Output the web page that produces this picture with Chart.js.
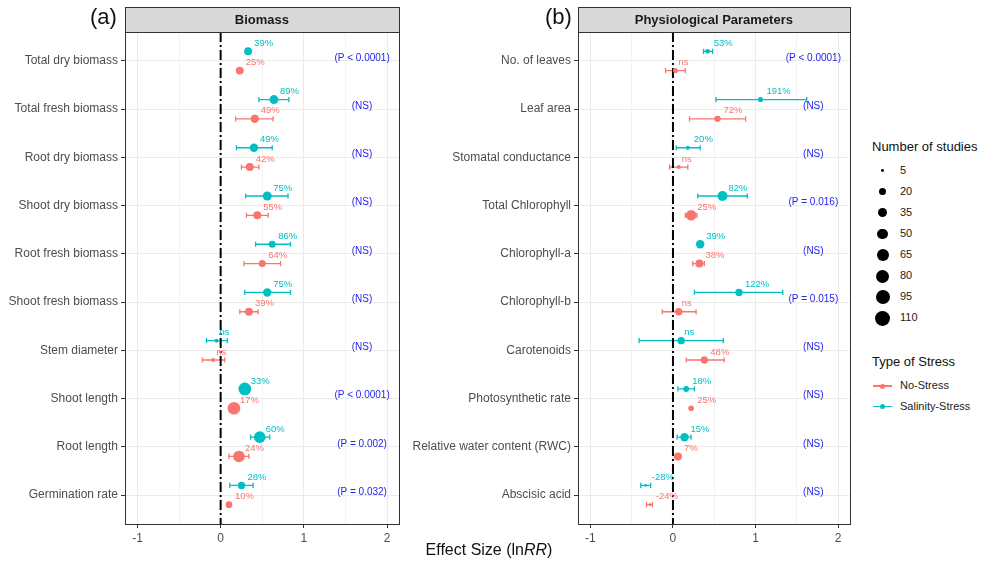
<!DOCTYPE html>
<html><head><meta charset="utf-8">
<script src="https://cdn.jsdelivr.net/npm/chart.js@4.4.1/dist/chart.umd.min.js"></script>
<style>
body{margin:0;width:992px;height:562px;background:#fff;position:relative;overflow:hidden;font-family:"Liberation Sans",Arial,sans-serif;}
canvas{position:absolute;top:0;}
.tag{position:absolute;font-size:22px;color:#111;top:4px;}
.xt{position:absolute;left:289px;width:400px;text-align:center;top:541px;font-size:16px;color:#111;}
.leg{position:absolute;left:872px;font-size:11px;color:#222;}
.lt{position:absolute;left:872px;font-size:13px;color:#111;}
.dot{position:absolute;background:#000;border-radius:50%;}
</style></head>
<body>
<canvas id="ca" width="405" height="546" style="left:0"></canvas>
<canvas id="cb" width="455" height="546" style="left:400px"></canvas>
<div class="tag" style="left:90px">(a)</div>
<div class="tag" style="left:545px">(b)</div>
<div class="xt">Effect Size (ln<i>RR</i>)</div>
<div id="legend"></div>
<script>
// ---------- Panel (a): Biomass ----------
const biomassCategories = ["Total dry biomass","Total fresh biomass","Root dry biomass","Shoot dry biomass","Root fresh biomass","Shoot fresh biomass","Stem diameter","Shoot length","Root length","Germination rate"];
const biomassSalinity      = [0.33, 0.64, 0.40, 0.56, 0.62, 0.56, -0.05, 0.29, 0.47, 0.25];
const biomassSalinityLow   = [null, 0.46, 0.19, 0.30, 0.42, 0.29, -0.17, null, 0.36, 0.11];
const biomassSalinityHigh  = [null, 0.82, 0.62, 0.81, 0.84, 0.84, 0.08, null, 0.59, 0.39];
const biomassSalinityN     = [24, 32, 28, 32, 18, 28, 6, 76, 62, 20];
const biomassSalinityLabel = ["39%","89%","49%","75%","86%","75%","ns","33%","60%","28%"];
const biomassNoStress      = [0.23, 0.41, 0.35, 0.44, 0.50, 0.34, -0.09, 0.16, 0.22, 0.10];
const biomassNoStressLow   = [null, 0.18, 0.25, 0.31, 0.28, 0.23, -0.22, null, 0.10, null];
const biomassNoStressHigh  = [null, 0.63, 0.46, 0.57, 0.72, 0.45, 0.05, null, 0.34, null];
const biomassNoStressN     = [24, 28, 24, 25, 18, 24, 6, 75, 62, 16];
const biomassNoStressLabel = ["25%","49%","42%","55%","64%","39%","ns","17%","24%","10%"];
const biomassSignif = ["(P < 0.0001)","(NS)","(NS)","(NS)","(NS)","(NS)","(NS)","(P < 0.0001)","(P = 0.002)","(P = 0.032)"];

// ---------- Panel (b): Physiological Parameters ----------
const physioCategories = ["No. of leaves","Leaf area","Stomatal conductance","Total Chlorophyll","Chlorophyll-a","Chlorophyll-b","Carotenoids","Photosynthetic rate","Relative water content (RWC)","Abscisic acid"];
const physioSalinity      = [0.42, 1.06, 0.18, 0.60, 0.33, 0.80, 0.10, 0.16, 0.14, -0.33];
const physioSalinityLow   = [0.37, 0.52, 0.04, 0.30, null, 0.26, -0.41, 0.06, 0.05, -0.39];
const physioSalinityHigh  = [0.48, 1.62, 0.33, 0.90, null, 1.33, 0.61, 0.26, 0.22, -0.27];
const physioSalinityN     = [8, 9, 6, 42, 28, 20, 20, 12, 28, 5];
const physioSalinityLabel = ["53%","191%","20%","82%","39%","122%","ns","18%","15%","-28%"];
const physioNoStress      = [0.03, 0.54, 0.07, 0.22, 0.32, 0.07, 0.38, 0.22, 0.06, -0.28];
const physioNoStressLow   = [-0.09, 0.20, -0.04, 0.15, 0.24, -0.13, 0.16, null, null, -0.32];
const physioNoStressHigh  = [0.15, 0.88, 0.18, 0.29, 0.38, 0.28, 0.62, null, null, -0.25];
const physioNoStressN     = [9, 14, 6, 50, 24, 20, 20, 11, 25, 5];
const physioNoStressLabel = ["ns","72%","ns","25%","38%","ns","48%","25%","7%","-24%"];
const physioSignif = ["(P < 0.0001)","(NS)","(NS)","(P = 0.016)","(NS)","(P = 0.015)","(NS)","(NS)","(NS)","(NS)"];

// ---------- Legend ----------
const studyLegendValues = [5, 20, 35, 50, 65, 80, 95, 110];
const stressTypes = ["No-Stress", "Salinity-Stress"];

const CYAN = "#00BFC4", RED = "#F8766D";
const FONT = "'Liberation Sans', Arial, sans-serif";
const radiusFor = n => 1.4 + 6.0 * Math.sqrt(Math.max(0, n - 5) / 105);

const panelPlugin = {
  id: 'panelPlugin',
  beforeDatasetsDraw(chart) {
    const {ctx} = chart, xs = chart.scales.x, ys = chart.scales.y;
    chart.data.datasets.forEach(ds => {
      if (!ds.errLo) return;
      ctx.save();
      ctx.strokeStyle = ds.backgroundColor; ctx.lineWidth = 1.3;
      ds.data.forEach((p, i) => {
        if (ds.errLo[i] == null) return;
        const x1 = xs.getPixelForValue(ds.errLo[i]), x2 = xs.getPixelForValue(ds.errHi[i]);
        const y = ys.getPixelForValue(p.y);
        ctx.beginPath();
        ctx.moveTo(x1, y); ctx.lineTo(x2, y);
        ctx.moveTo(x1, y - 2.6); ctx.lineTo(x1, y + 2.6);
        ctx.moveTo(x2, y - 2.6); ctx.lineTo(x2, y + 2.6);
        ctx.stroke();
      });
      ctx.restore();
    });
  },
  afterDatasetsDraw(chart) {
    const {ctx} = chart, xs = chart.scales.x, ys = chart.scales.y, a = chart.chartArea;
    ctx.save();
    ctx.font = "9.5px " + FONT; ctx.textBaseline = 'middle'; ctx.textAlign = 'left';
    chart.data.datasets.forEach(ds => {
      if (!ds.labels) return;
      ctx.fillStyle = ds.backgroundColor;
      ds.data.forEach((p, i) => {
        const t = ds.labels[i];
        const x = xs.getPixelForValue(p.x) + (t === 'ns' ? 3 : 6);
        const y = ys.getPixelForValue(p.y) - 8;
        ctx.fillText(t, x, y);
      });
    });
    // significance notes
    const sig = chart.options.plugins.panelPlugin.signif;
    ctx.font = "10px " + FONT; ctx.textAlign = 'center'; ctx.fillStyle = '#2424F0';
    sig.forEach((t, i) => {
      ctx.fillText(t, xs.getPixelForValue(1.7), ys.getPixelForValue(i + 1) - 3);
    });
    // panel border
    ctx.strokeStyle = '#333'; ctx.lineWidth = 1;
    ctx.strokeRect(Math.round(a.left) + 0.5, Math.round(a.top) + 0.5, Math.round(a.right - a.left), Math.round(a.bottom - a.top));
    // strip
    const top = 7.5;
    ctx.fillStyle = '#D9D9D9';
    ctx.fillRect(Math.round(a.left) + 0.5, top, Math.round(a.right - a.left), Math.round(a.top) - top + 0.5);
    ctx.strokeRect(Math.round(a.left) + 0.5, top, Math.round(a.right - a.left), Math.round(a.top) - top + 0.5);
    ctx.fillStyle = '#1A1A1A'; ctx.font = "bold 13px " + FONT; ctx.textAlign = 'center';
    ctx.fillText(chart.options.plugins.panelPlugin.title, (a.left + a.right) / 2, (top + a.top) / 2 + 1);
    ctx.restore();
  }
};

function makePanel(id, title, cats, sV, sLo, sHi, sN, sLab, nV, nLo, nHi, nN, nLab, sig, yWidth) {
  new Chart(document.getElementById(id), {
    type: 'scatter',
    data: {
      datasets: [
        { type: 'line', data: [{x: 0, y: 0.4}, {x: 0, y: 10.6}], borderColor: '#000', borderWidth: 2,
          borderDash: [10, 3, 2, 3], pointRadius: 0, order: 3 },
        { label: 'Salinity-Stress', data: sV.map((v, i) => ({x: v, y: i + 1 - 0.2})),
          pointRadius: sN.map(radiusFor), backgroundColor: CYAN, borderWidth: 0, pointBorderWidth: 0,
          errLo: sLo, errHi: sHi, labels: sLab, order: 1 },
        { label: 'No-Stress', data: nV.map((v, i) => ({x: v, y: i + 1 + 0.2})),
          pointRadius: nN.map(radiusFor), backgroundColor: RED, borderWidth: 0, pointBorderWidth: 0,
          errLo: nLo, errHi: nHi, labels: nLab, order: 2 }
      ]
    },
    options: {
      responsive: false, animation: false, devicePixelRatio: 1,
      layout: { padding: { top: 32, right: 5, left: 0, bottom: 0 } },
      plugins: { legend: { display: false }, tooltip: { enabled: false },
                 panelPlugin: { title: title, signif: sig } },
      scales: {
        x: {
          type: 'linear', min: -1.15, max: 2.14,
          afterBuildTicks: s => { s.ticks = [-1, -0.5, 0, 0.5, 1, 1.5, 2].map(v => ({value: v})); },
          afterFit: s => { s.height = 22; },
          border: { display: false },
          grid: { color: c => (Math.abs(c.tick.value % 1) > 0.01 ? '#F3F3F3' : '#EBEBEB'),
                  lineWidth: 1, tickLength: 4,
                  tickColor: c => (Math.abs(c.tick.value % 1) > 0.01 ? 'rgba(0,0,0,0)' : '#333') },
          ticks: { padding: 3, color: '#4D4D4D', font: { family: FONT, size: 12 },
                   callback: v => (Math.abs(v % 1) > 0.01 ? '' : String(v)) }
        },
        y: {
          type: 'linear', min: 0.4, max: 10.6, reverse: true,
          afterBuildTicks: s => { s.ticks = cats.map((c, i) => ({value: i + 1})); },
          afterFit: s => { s.width = yWidth; },
          border: { display: false },
          grid: { color: '#EBEBEB', lineWidth: 1, tickLength: 4, tickColor: '#333' },
          ticks: { padding: 3, color: '#4D4D4D', font: { family: FONT, size: 12 }, autoSkip: false,
                   callback: v => cats[Math.round(v) - 1] }
        }
      }
    },
    plugins: [panelPlugin]
  });
}

makePanel('ca', 'Biomass', biomassCategories,
  biomassSalinity, biomassSalinityLow, biomassSalinityHigh, biomassSalinityN, biomassSalinityLabel,
  biomassNoStress, biomassNoStressLow, biomassNoStressHigh, biomassNoStressN, biomassNoStressLabel,
  biomassSignif, 125);
makePanel('cb', 'Physiological Parameters', physioCategories,
  physioSalinity, physioSalinityLow, physioSalinityHigh, physioSalinityN, physioSalinityLabel,
  physioNoStress, physioNoStressLow, physioNoStressHigh, physioNoStressN, physioNoStressLabel,
  physioSignif, 178);

// legend
const L = document.getElementById('legend');
let html = '<div class="lt" style="top:139px">Number of studies</div>';
studyLegendValues.forEach((n, i) => {
  const r = radiusFor(n), cy = 170.7 + i * 21.1;
  html += `<div class="dot" style="left:${882.7 - r}px;top:${cy - r}px;width:${2*r}px;height:${2*r}px"></div>`;
  html += `<div class="leg" style="left:900px;top:${cy - 7}px">${n}</div>`;
});
html += '<div class="lt" style="top:354px">Type of Stress</div>';
[RED, CYAN].forEach((col, i) => {
  const cy = 386 + i * 20.5;
  html += `<div style="position:absolute;left:873px;top:${cy - 0.7}px;width:19px;height:1.4px;background:${col}"></div>`;
  html += `<div class="dot" style="background:${col};left:${882.7 - 2.5}px;top:${cy - 2.5}px;width:5px;height:5px"></div>`;
  html += `<div class="leg" style="left:900px;top:${cy - 7}px">${stressTypes[i]}</div>`;
});
L.innerHTML = html;
</script>
</body></html>
